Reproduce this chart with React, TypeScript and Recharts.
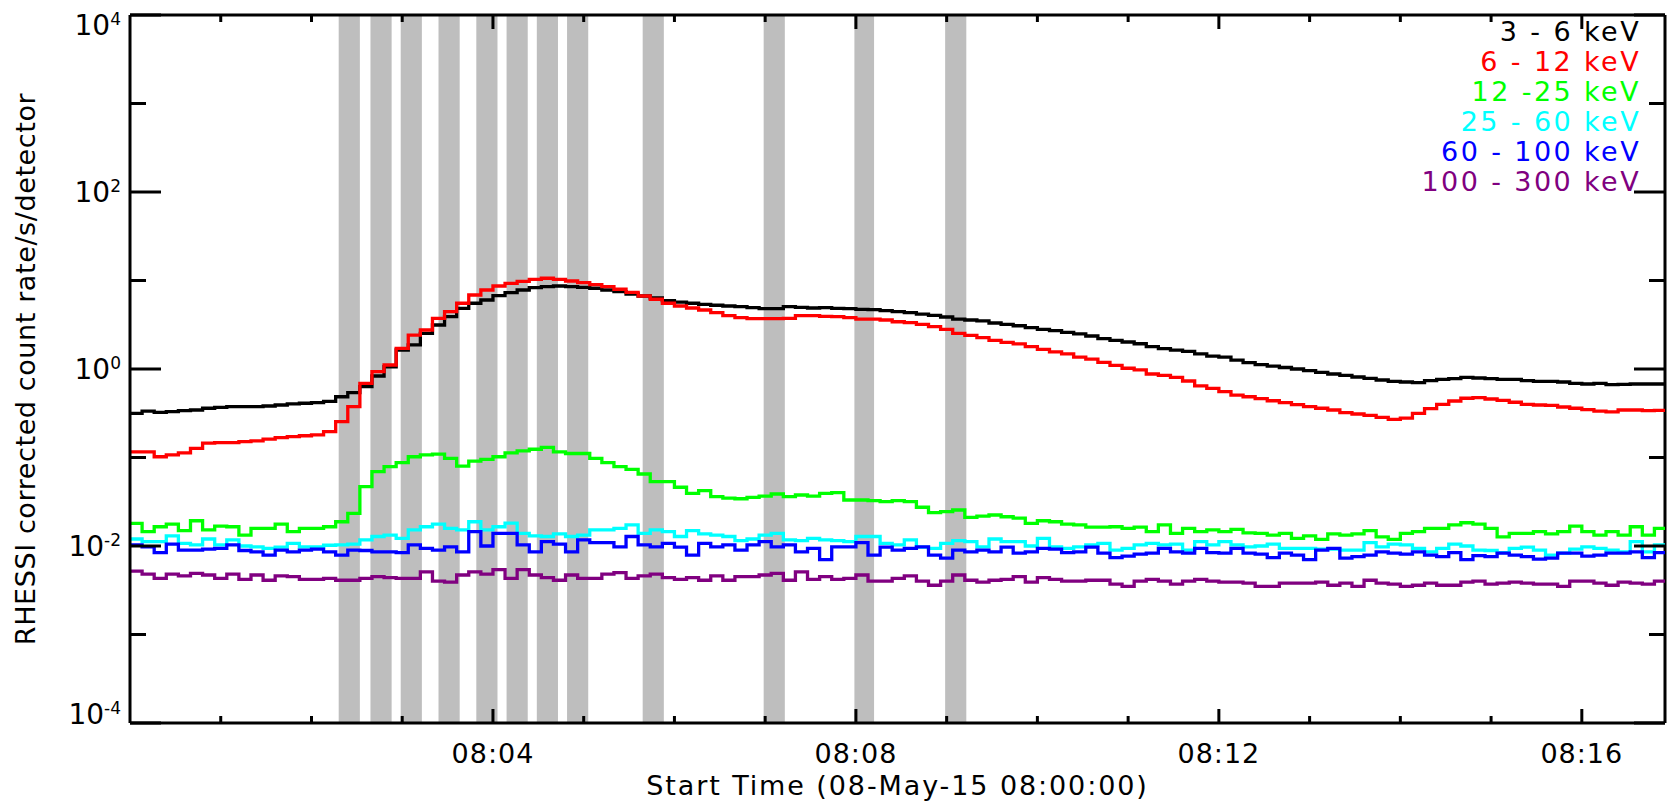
import React from 'react';
import { LineChart, Line, XAxis, YAxis, ReferenceArea, ReferenceLine } from 'recharts';

// Light curves in 8 s bins starting at 08:00:00 (counts/s/detector)
const BIN_SECONDS = 8;
const END_SECONDS = 1015;

const BAND_3_6 = [
  0.316, 0.335, 0.324, 0.330, 0.338, 0.344, 0.360, 0.369, 0.375, 0.375,
  0.375, 0.382, 0.392, 0.403, 0.410, 0.416, 0.431, 0.486, 0.540, 0.631,
  0.834, 1.06, 1.64, 1.87, 2.53, 3.14, 3.90, 4.85, 5.53, 6.02,
  6.73, 7.28, 7.81, 8.29, 8.51, 8.67, 8.51, 8.38, 8.17, 7.81,
  7.47, 7.04, 6.68, 6.34, 5.91, 5.71, 5.53, 5.38, 5.25, 5.15,
  5.06, 4.93, 4.80, 4.80, 5.06, 4.98, 4.89, 4.93, 4.85, 4.80,
  4.73, 4.68, 4.56, 4.44, 4.33, 4.18, 4.04, 3.87, 3.67, 3.58,
  3.49, 3.31, 3.20, 3.08, 2.93, 2.81, 2.71, 2.60, 2.49, 2.36,
  2.20, 2.11, 2.02, 1.93, 1.79, 1.70, 1.63, 1.58, 1.48, 1.40,
  1.36, 1.26, 1.18, 1.12, 1.08, 1.04, 1.00, 0.957, 0.917, 0.878,
  0.849, 0.812, 0.785, 0.751, 0.726, 0.713, 0.700, 0.738, 0.765, 0.777,
  0.805, 0.791, 0.777, 0.765, 0.765, 0.738, 0.726, 0.726, 0.713, 0.689,
  0.677, 0.689, 0.665, 0.671, 0.677, 0.677, 0.677,
];

const BAND_6_12 = [
  0.116, 0.116, 0.102, 0.107, 0.113, 0.127, 0.145, 0.147, 0.147, 0.151,
  0.154, 0.161, 0.168, 0.172, 0.176, 0.180, 0.196, 0.254, 0.375, 0.689,
  0.932, 1.11, 1.71, 2.42, 2.76, 3.74, 4.44, 5.53, 6.86, 7.81,
  8.67, 9.29, 9.79, 10.3, 10.6, 10.3, 9.87, 9.44, 8.97, 8.51,
  7.96, 7.36, 6.68, 6.14, 5.53, 5.15, 4.89, 4.64, 4.33, 4.00,
  3.80, 3.70, 3.70, 3.70, 3.74, 4.00, 4.00, 3.94, 3.90, 3.80,
  3.67, 3.67, 3.58, 3.42, 3.34, 3.20, 3.01, 2.81, 2.53, 2.40,
  2.26, 2.11, 2.00, 1.92, 1.79, 1.67, 1.56, 1.48, 1.36, 1.29,
  1.19, 1.10, 1.02, 0.975, 0.878, 0.849, 0.805, 0.732, 0.643, 0.605,
  0.554, 0.508, 0.486, 0.462, 0.438, 0.416, 0.395, 0.375, 0.360, 0.344,
  0.321, 0.310, 0.300, 0.284, 0.270, 0.279, 0.316, 0.356, 0.399, 0.435,
  0.467, 0.474, 0.458, 0.443, 0.421, 0.399, 0.392, 0.389, 0.372, 0.360,
  0.347, 0.335, 0.327, 0.344, 0.344, 0.338, 0.341,
];

const BAND_12_25 = [
  0.0180, 0.0145, 0.0165, 0.0177, 0.0149, 0.0193, 0.0152, 0.0168, 0.0165, 0.0133,
  0.0158, 0.0158, 0.0177, 0.0145, 0.0158, 0.0158, 0.0165, 0.0188, 0.0234, 0.0468,
  0.0692, 0.0787, 0.0873, 0.102, 0.107, 0.109, 0.098, 0.080, 0.091, 0.0954,
  0.102, 0.113, 0.119, 0.124, 0.130, 0.116, 0.111, 0.111, 0.098, 0.0873,
  0.0787, 0.0736, 0.0651, 0.0533, 0.0533, 0.0461, 0.0394, 0.0422, 0.0361, 0.0348,
  0.0342, 0.0355, 0.0367, 0.0387, 0.0361, 0.0377, 0.0367, 0.0394, 0.0400, 0.0331,
  0.0331, 0.0325, 0.0317, 0.0325, 0.0317, 0.0274, 0.0238, 0.0244, 0.0255, 0.0211,
  0.0218, 0.0224, 0.0214, 0.0206, 0.0180, 0.0193, 0.0188, 0.0177, 0.0173, 0.0163,
  0.0163, 0.0165, 0.0158, 0.0163, 0.0145, 0.0173, 0.0139, 0.0158, 0.0145, 0.0152,
  0.0145, 0.0154, 0.0141, 0.0139, 0.0133, 0.0139, 0.0122, 0.0130, 0.0119, 0.0137,
  0.0133, 0.0137, 0.0149, 0.0127, 0.0119, 0.0139, 0.0145, 0.0158, 0.0158, 0.0173,
  0.0183, 0.0177, 0.0158, 0.0127, 0.0139, 0.0139, 0.0145, 0.0137, 0.0145, 0.0168,
  0.0145, 0.0133, 0.0145, 0.0133, 0.0165, 0.0133, 0.0158,
];

const BAND_25_60 = [
  0.0120, 0.0112, 0.0112, 0.0130, 0.0107, 0.0103, 0.0120, 0.0103, 0.0117, 0.0100,
  0.0098, 0.0094, 0.0097, 0.0107, 0.0098, 0.0098, 0.0102, 0.0103, 0.0105, 0.0117,
  0.0128, 0.0133, 0.0122, 0.0152, 0.0165, 0.0177, 0.0158, 0.0152, 0.0188, 0.0152,
  0.0165, 0.0181, 0.0139, 0.0130, 0.0128, 0.0137, 0.0128, 0.0133, 0.0152, 0.0152,
  0.0158, 0.0173, 0.0139, 0.0152, 0.0145, 0.0128, 0.0149, 0.0137, 0.0133, 0.0128,
  0.0115, 0.0120, 0.0133, 0.0139, 0.0117, 0.0115, 0.0122, 0.0117, 0.0115, 0.0112,
  0.0128, 0.0128, 0.0107, 0.0103, 0.0117, 0.0097, 0.0094, 0.0107, 0.0115, 0.0112,
  0.0098, 0.0120, 0.0112, 0.0112, 0.0100, 0.0122, 0.0098, 0.0094, 0.0098, 0.0103,
  0.0107, 0.0090, 0.0094, 0.0103, 0.0107, 0.0103, 0.0105, 0.0090, 0.0112, 0.0103,
  0.0112, 0.0103, 0.0098, 0.0100, 0.0105, 0.0094, 0.0094, 0.0094, 0.0092, 0.0092,
  0.0090, 0.0090, 0.0109, 0.0098, 0.0105, 0.0103, 0.0094, 0.0086, 0.0094, 0.0105,
  0.0100, 0.0090, 0.0089, 0.0084, 0.0094, 0.0097, 0.0090, 0.0079, 0.0083, 0.0092,
  0.0098, 0.0094, 0.0090, 0.0086, 0.0112, 0.0086, 0.0103,
];

const BAND_60_100 = [
  0.0103, 0.0098, 0.0084, 0.0105, 0.0090, 0.0090, 0.0092, 0.0094, 0.0103, 0.0089,
  0.0086, 0.0079, 0.0090, 0.0086, 0.0090, 0.0092, 0.0086, 0.0079, 0.0090, 0.0089,
  0.0086, 0.0086, 0.0084, 0.0103, 0.0094, 0.0090, 0.0098, 0.0086, 0.0145, 0.0100,
  0.0139, 0.0139, 0.0103, 0.0086, 0.0112, 0.0105, 0.0086, 0.0117, 0.0109, 0.0109,
  0.0098, 0.0128, 0.0103, 0.0098, 0.0107, 0.0097, 0.0079, 0.0107, 0.0098, 0.0103,
  0.0090, 0.0103, 0.0112, 0.0098, 0.0103, 0.0086, 0.0094, 0.0070, 0.0098, 0.0098,
  0.0109, 0.0079, 0.0097, 0.0090, 0.0094, 0.0098, 0.0079, 0.0073, 0.0090, 0.0086,
  0.0090, 0.0086, 0.0097, 0.0083, 0.0086, 0.0094, 0.0092, 0.0084, 0.0086, 0.0097,
  0.0083, 0.0074, 0.0077, 0.0081, 0.0083, 0.0094, 0.0086, 0.0083, 0.0094, 0.0084,
  0.0083, 0.0094, 0.0083, 0.0081, 0.0074, 0.0083, 0.0079, 0.0070, 0.0090, 0.0094,
  0.0073, 0.0076, 0.0079, 0.0086, 0.0083, 0.0081, 0.0086, 0.0079, 0.0076, 0.0084,
  0.0070, 0.0078, 0.0076, 0.0083, 0.0079, 0.0076, 0.0071, 0.0073, 0.0083, 0.0083,
  0.0077, 0.0079, 0.0083, 0.0083, 0.0086, 0.0074, 0.0084,
];

const BAND_100_300 = [
  0.0052, 0.0048, 0.0043, 0.0048, 0.0046, 0.0049, 0.0047, 0.0043, 0.0048, 0.0042,
  0.0047, 0.0041, 0.0046, 0.0045, 0.0042, 0.0042, 0.0043, 0.0041, 0.0041, 0.0043,
  0.0045, 0.0044, 0.0043, 0.0043, 0.0051, 0.0040, 0.0039, 0.0047, 0.0051, 0.0048,
  0.0054, 0.0043, 0.0054, 0.0047, 0.0044, 0.0041, 0.0047, 0.0043, 0.0043, 0.0048,
  0.0050, 0.0043, 0.0046, 0.0048, 0.0044, 0.0042, 0.0044, 0.0041, 0.0046, 0.0041,
  0.0045, 0.0045, 0.0047, 0.0049, 0.0041, 0.0051, 0.0042, 0.0045, 0.0042, 0.0043,
  0.0047, 0.0040, 0.0040, 0.0043, 0.0046, 0.0040, 0.0036, 0.0040, 0.0047, 0.0041,
  0.0039, 0.0041, 0.0042, 0.0045, 0.0039, 0.0044, 0.0042, 0.0040, 0.0040, 0.0041,
  0.0041, 0.0037, 0.0035, 0.0040, 0.0042, 0.0040, 0.0037, 0.0040, 0.0042, 0.0040,
  0.0039, 0.0039, 0.0038, 0.0035, 0.0035, 0.0038, 0.0038, 0.0038, 0.0039, 0.0036,
  0.0038, 0.0035, 0.0041, 0.0038, 0.0037, 0.0035, 0.0036, 0.0038, 0.0036, 0.0036,
  0.0039, 0.0040, 0.0037, 0.0038, 0.0039, 0.0038, 0.0037, 0.0037, 0.0035, 0.0040,
  0.0040, 0.0038, 0.0036, 0.0039, 0.0038, 0.0037, 0.0040,
];

// attenuator / decimation intervals, seconds after 08:00:00
const SHADE_START = [138, 159, 179, 204, 229, 249, 269, 289, 339, 419, 479, 539];
const SHADE_END = [152, 173, 193, 218, 243, 263, 283, 303, 353, 433, 492, 553];

const MINUTE_TICKS = [60, 120, 180, 240, 300, 360, 420, 480, 540, 600, 660, 720, 780, 840, 900, 960];
const TIME_LABELS: Record<number, string> = { 240: '08:04', 480: '08:08', 720: '08:12', 960: '08:16' };
const DECADE_TICKS = [1e-4, 1e-3, 1e-2, 1e-1, 1, 10, 100, 1000, 10000];

const SERIES = [
  { key: 'e3', label: '3 - 6 keV', color: '#000000', values: BAND_3_6 },
  { key: 'e6', label: '6 - 12 keV', color: '#ff0000', values: BAND_6_12 },
  { key: 'e12', label: '12 -25 keV', color: '#00ff00', values: BAND_12_25 },
  { key: 'e25', label: '25 - 60 keV', color: '#00ffff', values: BAND_25_60 },
  { key: 'e60', label: '60 - 100 keV', color: '#0000ff', values: BAND_60_100 },
  { key: 'e100', label: '100 - 300 keV', color: '#800080', values: BAND_100_300 },
];

const rows: any[] = BAND_3_6.map((_, i) => {
  const row: any = { t: i * BIN_SECONDS };
  SERIES.forEach((s) => { row[s.key] = s.values[i]; });
  return row;
});
rows.push({ ...rows[rows.length - 1], t: END_SECONDS });

const WIDTH = 1672;
const HEIGHT = 802;
const MARGIN = { top: 15, right: 7, bottom: 0, left: 0 };
const PLOT_TOP = MARGIN.top;
const PLOT_RIGHT = WIDTH - MARGIN.right;
const FONT = '"DejaVu Sans", sans-serif';
const AXIS_W = 3;

const TimeTick = (props: any) => {
  const { x, y, payload } = props;
  const label = TIME_LABELS[payload.value];
  const len = label ? 14 : 7;
  return (
    <g>
      <line x1={x} x2={x} y1={y} y2={y - len} stroke="#000" strokeWidth={AXIS_W} />
      <line x1={x} x2={x} y1={PLOT_TOP} y2={PLOT_TOP + len} stroke="#000" strokeWidth={AXIS_W} />
      {label && (
        <text x={x} y={y + 40} textAnchor="middle" fontSize={27} fontFamily={FONT} fill="#000" letterSpacing={1}>
          {label}
        </text>
      )}
    </g>
  );
};

const DecadeTick = (props: any) => {
  const { x, y, payload } = props;
  const exp = Math.round(Math.log10(payload.value));
  const labelled = exp % 2 === 0;
  const len = labelled ? 31 : 16;
  // end labels are pulled inside the frame
  const shift = exp === 4 ? 10 : exp === -4 ? -9 : 0;
  return (
    <g>
      <line x1={x} x2={x + len} y1={y} y2={y} stroke="#000" strokeWidth={AXIS_W} />
      <line x1={PLOT_RIGHT} x2={PLOT_RIGHT - len} y1={y} y2={y} stroke="#000" strokeWidth={AXIS_W} />
      {labelled && (
        <text x={x - 9} y={y + shift + 10} textAnchor="end" fontSize={28} fontFamily={FONT} fill="#000">
          10<tspan dy={-10} fontSize={17}>{exp}</tspan>
        </text>
      )}
    </g>
  );
};

const XTitle = ({ viewBox }: any) => (
  <text
    x={viewBox.x + viewBox.width / 2}
    y={viewBox.y + viewBox.height - 7}
    textAnchor="middle"
    fontSize={27}
    fontFamily={FONT}
    fill="#000"
    letterSpacing={1.9}
  >
    Start Time (08-May-15 08:00:00)
  </text>
);

const YTitle = ({ viewBox }: any) => {
  const cx = 35;
  const cy = viewBox.y + viewBox.height / 2;
  return (
    <text
      x={cx}
      y={cy}
      transform={`rotate(-90, ${cx}, ${cy})`}
      textAnchor="middle"
      fontSize={27}
      fontFamily={FONT}
      fill="#000"
      letterSpacing={0.6}
    >
      RHESSI corrected count rate/s/detector
    </text>
  );
};

export default function App() {
  return (
    <div style={{ position: 'absolute', left: 0, top: 0, width: WIDTH, height: HEIGHT, background: '#fff' }}>
      <LineChart width={WIDTH} height={HEIGHT} data={rows} margin={MARGIN}>
        {SHADE_START.map((s, i) => (
          <ReferenceArea key={`shade-${i}`} x1={s} x2={SHADE_END[i]} fill="#bebebe" fillOpacity={1} stroke="none" />
        ))}
        <XAxis
          dataKey="t"
          type="number"
          domain={[0, END_SECONDS]}
          allowDataOverflow
          ticks={MINUTE_TICKS}
          interval={0}
          height={79}
          tickSize={0}
          tickMargin={0}
          tickLine={false}
          axisLine={{ stroke: '#000', strokeWidth: AXIS_W }}
          tick={<TimeTick />}
          label={{ content: <XTitle /> }}
        />
        <YAxis
          type="number"
          scale="log"
          domain={[1e-4, 1e4]}
          allowDataOverflow
          ticks={DECADE_TICKS}
          interval={0}
          width={130}
          tickSize={0}
          tickMargin={0}
          tickLine={false}
          axisLine={{ stroke: '#000', strokeWidth: AXIS_W }}
          tick={<DecadeTick />}
          label={{ content: <YTitle /> }}
        />
        <ReferenceLine y={1e4} stroke="#000" strokeWidth={AXIS_W} />
        <ReferenceLine x={END_SECONDS} stroke="#000" strokeWidth={AXIS_W} />
        {SERIES.map((s) => (
          <Line
            key={s.key}
            type="stepAfter"
            dataKey={s.key}
            stroke={s.color}
            strokeWidth={3.3}
            dot={false}
            isAnimationActive={false}
          />
        ))}
      </LineChart>
      <div
        style={{
          position: 'absolute',
          top: 17,
          right: 31,
          textAlign: 'right',
          fontFamily: FONT,
          fontSize: 27,
          lineHeight: '30px',
          letterSpacing: 2.4,
          whiteSpace: 'pre',
        }}
      >
        {SERIES.map((s) => (
          <div key={s.key} style={{ color: s.color }}>{s.label}</div>
        ))}
      </div>
    </div>
  );
}
